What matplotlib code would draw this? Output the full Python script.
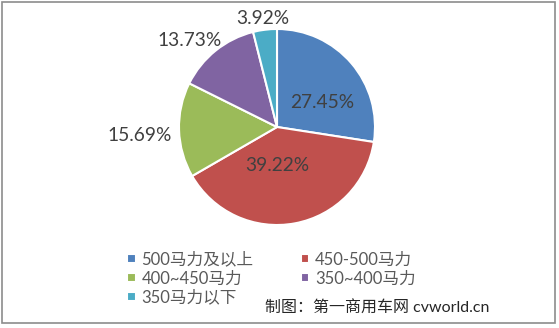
import matplotlib.pyplot as plt
from matplotlib.patches import Rectangle

plt.rcParams['font.family'] = ['Lato', 'Noto Sans CJK SC', 'DejaVu Sans']

# data
categories = ['500马力及以上', '450-500马力', '400~450马力', '350~400马力', '350马力以下']
shares = [27.45, 39.22, 15.69, 13.73, 3.92]
colors = ['#4F81BD', '#C0504D', '#9BBB59', '#8064A2', '#4BACC6']

# label spots (radius units, relative to pie centre)
label_pos = [(0.46, 0.25), (0.0, -0.39), (-1.40, -0.09), (-0.89, 0.88), (-0.15, 1.11)]

fig = plt.figure(figsize=(5.59, 3.28), dpi=100)
fig.patches.append(Rectangle((2 / 559, 5 / 328), 553 / 559, 321 / 328, transform=fig.transFigure,
                             fill=False, edgecolor='#8c8c8c', linewidth=1.2))

cx, cy, r = 277, 127, 98
ax = fig.add_axes([(cx - r) / 559, 1 - (cy + r) / 328, 2 * r / 559, 2 * r / 328])
wedges, _ = ax.pie(shares, colors=colors, startangle=90, counterclock=False,
                   wedgeprops=dict(edgecolor='white', linewidth=1.5))
ax.set_xlim(-1, 1)
ax.set_ylim(-1, 1)
ax.set_aspect('auto')
ax.axis('off')

for v, (x, y) in zip(shares, label_pos):
    ax.text(x, y, f'{v:.2f}%', ha='center', va='center', fontsize=13.8, color='#404040',
            clip_on=False)

order = [0, 2, 4, 1, 3]
fig.legend([wedges[i] for i in order], [categories[i] for i in order], ncol=2,
           loc='upper left', bbox_to_anchor=(119 / 559, 1 - 243 / 328), frameon=False,
           fontsize=12, handlelength=0.5, handleheight=0.5, handletextpad=0.35,
           columnspacing=2.85, labelspacing=0.18, borderpad=0, labelcolor='#595959')

fig.text(265 / 559, 1 - 308 / 328, '制图：第一商用车网 cvworld.cn', ha='left', va='center',
         fontsize=11.5, color='#262626')

fig.savefig('out.png', dpi=100)
